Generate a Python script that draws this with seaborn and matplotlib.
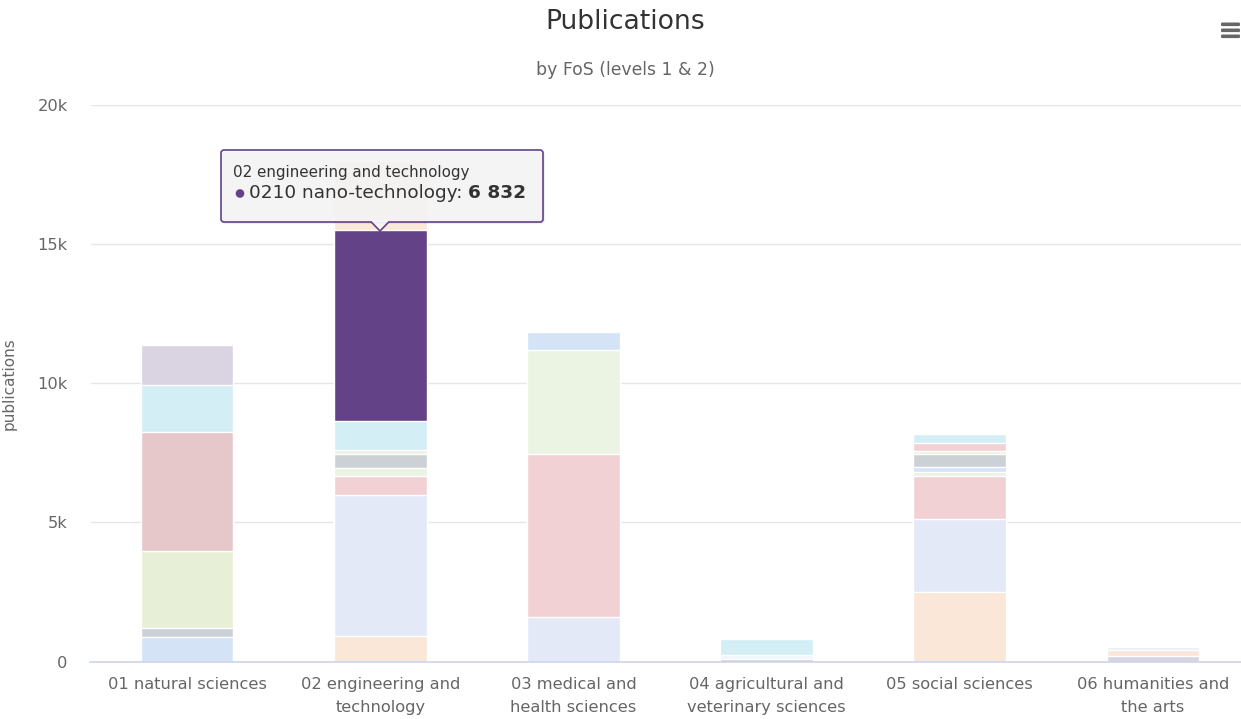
import matplotlib
matplotlib.use("Agg")
import matplotlib.pyplot as plt
import seaborn as sns
import pandas as pd
import numpy as np
from matplotlib.patches import FancyBboxPatch, Polygon, Rectangle, Circle
from matplotlib.transforms import Affine2D

# ---------------- data ----------------
categories = ["01 natural sciences", "02 engineering and\ntechnology",
              "03 medical and\nhealth sciences", "04 agricultural and\nveterinary sciences",
              "05 social sciences", "06 humanities and\nthe arts"]

natural_values = [875, 325, 2760, 4280, 1710, 1440]
engineering_values = [900, 5080, 690, 290, 490, 150, 1060, 6832, 2500]
medical_values = [1600, 5870, 3730, 640]
agricultural_values = [90, 160, 550]
social_values = [2490, 2640, 1520, 150, 190, 470, 120, 270, 330]
humanities_values = [200, 220, 110]

y_ticks = [0, 5000, 10000, 15000, 20000]
y_tick_labels = ["0", "5k", "10k", "15k", "20k"]

# ---------------- styles ----------------
LB, GR, GN, GN2 = "#d4e3f5", "#ccd1d6", "#e7f0d6", "#ebf3e2"
PK, PK2, CY, LV = "#e7c8ca", "#f2d1d4", "#d3eef4", "#d9d3e2"
PE, LVB, PU, PALE = "#fbe7d8", "#e3e9f7", "#634287", "#f1f4fa"
natural_colors = [LB, GR, GN, PK, CY, LV]
engineering_colors = [PE, LVB, PK2, GN2, GR, GN2, CY, PU, PE]
medical_colors = [LVB, PK2, GN2, LB]
agricultural_colors = [GR, PALE, CY]
social_colors = [PE, LVB, PK2, GN2, LB, GR, GN2, PK2, CY]
humanities_colors = [LV, PE, "#e8edf8"]

all_values = [natural_values, engineering_values, medical_values,
              agricultural_values, social_values, humanities_values]
all_colors = [natural_colors, engineering_colors, medical_colors,
              agricultural_colors, social_colors, humanities_colors]

rows = []
for cat, vals, cols in zip(categories, all_values, all_colors):
    tops = np.cumsum(vals)
    for k, (v, t, c) in enumerate(zip(vals, tops, cols)):
        rows.append(dict(category=cat, layer=k, value=v, top=t, color=c))
df = pd.DataFrame(rows)

sns.set_theme(style="white")
plt.rcParams["font.family"] = ["DejaVu Sans"]

W, H = 1241, 719
PL, PR, PT, PB = 90.5, 1249.6, 105, 661.5
fig = plt.figure(figsize=(W / 100, H / 100), dpi=100)
fig.patch.set_facecolor("white")
ax = fig.add_axes([PL / W, 1 - PB / H, (PR - PL) / W, (PB - PT) / H])

for k in sorted(df["layer"].unique(), reverse=True):
    sub = df[df["layer"] == k]
    pal = dict(zip(sub["category"], sub["color"]))
    sns.barplot(data=sub, x="category", y="top", order=categories, hue="category",
                palette=pal, dodge=False, legend=False, width=0.48, saturation=1,
                edgecolor="white", linewidth=1, ax=ax)

ax.set_xlim(-0.5, len(categories) - 0.5)
ax.set_ylim(0, 20000)
ax.set_yticks(y_ticks)
ax.set_yticklabels(y_tick_labels)
ax.set_xticks(range(len(categories)))
ax.set_xticklabels(categories, linespacing=1.68)
ax.tick_params(axis="both", length=0, labelsize=11.7, colors="#666666")
ax.tick_params(axis="y", pad=16.5)
ax.tick_params(axis="x", pad=11)
ax.set_xlabel("")
ax.set_ylabel("publications", fontsize=11, color="#666666")
ax.yaxis.set_label_coords(-(PL - 17) / (PR - PL), 0.5)
ax.set_axisbelow(True)
ax.yaxis.grid(True, color="#e6e6e6", linewidth=1)
for s in ["top", "right", "left"]:
    ax.spines[s].set_visible(False)
ax.spines["bottom"].set_color("#ccd6eb")
ax.spines["bottom"].set_linewidth(1.2)

# titles
fig.text(625 / W, 1 - 22 / H, "Publications", ha="center", va="center",
         fontsize=19.2, color="#333333")
fig.text(625 / W, 1 - 70 / H, "by FoS (levels 1 & 2)", ha="center", va="center",
         fontsize=12.4, color="#666666")

# pixel transform (top-left origin)
pix = Affine2D().scale(1 / W, -1 / H).translate(0, 1) + fig.transFigure

# hamburger menu icon
for yy in [22.5, 28.5, 34.5]:
    fig.patches.append(FancyBboxPatch((1221, yy), 19, 3.6, transform=pix,
                                      boxstyle="round,pad=0,rounding_size=1.2",
                                      facecolor="#666666", edgecolor="none"))

# tooltip
x0, y0, x1, y1 = 221, 150, 543, 222
BG = (0.97, 0.97, 0.97, 0.9)
shadow = FancyBboxPatch((x0 + 1.5, y0 + 1.5), x1 - x0, y1 - y0,
                        boxstyle="round,pad=0,rounding_size=3", transform=pix,
                        facecolor="black", edgecolor="none", alpha=0.12)
fig.patches.append(shadow)
box = FancyBboxPatch((x0, y0), x1 - x0, y1 - y0,
                     boxstyle="round,pad=0,rounding_size=3", transform=pix,
                     facecolor=BG, edgecolor=PU, linewidth=1.2)
fig.patches.append(box)
tri = Polygon([(371, y1 - 0.3), (380, 231), (389, y1 - 0.3)], closed=False, transform=pix,
              facecolor=BG, edgecolor=PU, linewidth=1.2)
fig.patches.append(tri)
fig.patches.append(Rectangle((372, y1 - 1.5), 16, 1.8, transform=pix,
                             facecolor=(0.97, 0.97, 0.97, 1), edgecolor="none"))

fig.text(233, 172, "02 engineering and technology", transform=pix, ha="left",
         va="center", fontsize=10.9, color="#333333")
fig.patches.append(Circle((240, 193.5), 4.3, transform=pix, facecolor=PU,
                          edgecolor="none"))
t1 = fig.text(249, 193, "0210 nano-technology:", transform=pix, ha="left",
              va="center", fontsize=13.3, color="#333333")
fig.canvas.draw()
bb = t1.get_window_extent()
fig.text(bb.x1 + 6, 193, "6 832", transform=pix, ha="left", va="center",
         fontsize=13.3, color="#333333", fontweight="bold")

fig.savefig("out.png", dpi=100, facecolor="white")
